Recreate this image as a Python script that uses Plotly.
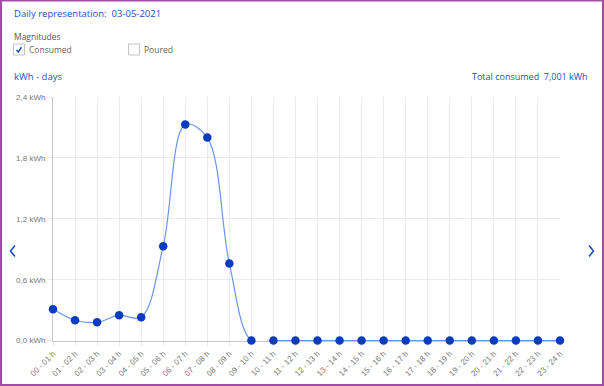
import plotly.graph_objects as go

hours = [f"{h:02d} - {h+1:02d} h" for h in range(24)]
consumed = [0.31, 0.20, 0.18, 0.25, 0.23, 0.93, 2.13, 2.00, 0.76,
            0, 0, 0, 0, 0, 0, 0, 0, 0, 0, 0, 0, 0, 0, 0]
y_ticks = [0, 0.6, 1.2, 1.8, 2.4]
y_ticktext = ["0,0 kWh", "0,6 kWh", "1,2 kWh", "1,8 kWh", "2,4 kWh"]
title_text = "Daily representation:  03-05-2021"
total_text = "Total consumed  7,001 kWh"

W, H = 604, 386
L, R, T, B = 53, 560, 97, 341
def px(x):
    return (x - L) / (R - L)
def py(y):
    return (B - y) / (B - T)

BLUE = "#1f4fbf"
GRAY_TXT = "#777777"
FONT = "Open Sans"

fig = go.Figure()
fig.add_trace(go.Scatter(
    x=list(range(24)), y=consumed, mode="lines",
    line=dict(shape="spline", smoothing=1.0, color="#6b96e6", width=1.2),
    hoverinfo="skip", showlegend=False))
fig.add_trace(go.Scatter(
    x=list(range(24)), y=consumed, mode="markers", cliponaxis=False,
    marker=dict(color="#0b3cbf", size=8.5, line=dict(width=0)),
    showlegend=False))

fig.update_xaxes(
    range=[0, 23], tickmode="array", tickvals=list(range(24)), ticktext=hours,
    tickangle=-45, tickfont=dict(family="Liberation Sans", size=8, color=GRAY_TXT),
    showgrid=True, gridcolor="#ebebeb", gridwidth=1,
    ticks="outside", ticklen=4, tickcolor="#ebebeb", automargin=False,
    showline=True, linecolor="#c8c8c8", linewidth=1, zeroline=False, fixedrange=True,
    layer="below traces")
fig.update_yaxes(
    range=[-0.004, 2.4], tickmode="array", tickvals=y_ticks, ticktext=y_ticktext,
    tickfont=dict(family="Liberation Sans", size=8, color=GRAY_TXT),
    showgrid=True, gridcolor="#ebebeb", gridwidth=1,
    ticks="outside", ticklen=5, tickcolor="#ebebeb", automargin=False,
    showline=True, linecolor="#c8c8c8", linewidth=1, zeroline=False, fixedrange=True,
    layer="below traces")

annotations = [
    dict(x=px(12), y=py(13), text=title_text, font=dict(color=BLUE, size=9.5, family=FONT)),
    dict(x=px(12), y=py(36), text="Magnitudes", font=dict(color="#555555", size=8.5, family=FONT)),
    dict(x=px(27), y=py(50), text="Consumed", font=dict(color="#666666", size=8.5, family=FONT)),
    dict(x=px(142), y=py(50), text="Poured", font=dict(color="#666666", size=8.5, family=FONT)),
    dict(x=px(12), y=py(77), text="kWh - days", font=dict(color=BLUE, size=9.5, family=FONT)),
]
for a in annotations:
    a.update(xref="paper", yref="paper", xanchor="left", yanchor="middle", showarrow=False)
annotations.append(dict(x=px(590), y=py(77), text=total_text, xref="paper", yref="paper",
                        xanchor="right", yanchor="middle", showarrow=False,
                        font=dict(color=BLUE, size=9, family=FONT)))

def path(points):
    return "M " + " L ".join(f"{px(x)},{py(y)}" for x, y in points)

shapes = [
    dict(type="rect", x0=px(13.5), x1=px(24.5), y0=py(44), y1=py(55),
         line=dict(color="#c4c4c4", width=1), fillcolor="white"),
    dict(type="rect", x0=px(128.5), x1=px(139.5), y0=py(44), y1=py(55),
         line=dict(color="#c4c4c4", width=1), fillcolor="white"),
    dict(type="path", path=path([(16.5, 50), (18.3, 52), (21.5, 47.2)]),
         line=dict(color=BLUE, width=1.5)),
    dict(type="path", path=path([(15, 245.5), (10.5, 251), (15, 256.5)]),
         line=dict(color=BLUE, width=1.6)),
    dict(type="path", path=path([(589, 245.5), (593.5, 251), (589, 256.5)]),
         line=dict(color=BLUE, width=1.6)),
    # purple frame
    dict(type="rect", x0=px(1), x1=px(603), y0=py(0.5), y1=py(385),
         line=dict(color="#a24ca8", width=2), fillcolor="rgba(0,0,0,0)"),
]
for s in shapes:
    s.update(xref="paper", yref="paper", layer="above")

fig.update_layout(
    width=W, height=H, margin=dict(l=L, r=W - R, t=T, b=H - B),
    paper_bgcolor="white", plot_bgcolor="white",
    annotations=annotations, shapes=shapes, showlegend=False)

fig.write_html("out.html", config={"displayModeBar": False},
               post_script="document.body.style.margin='0';document.body.style.overflow='hidden';")
